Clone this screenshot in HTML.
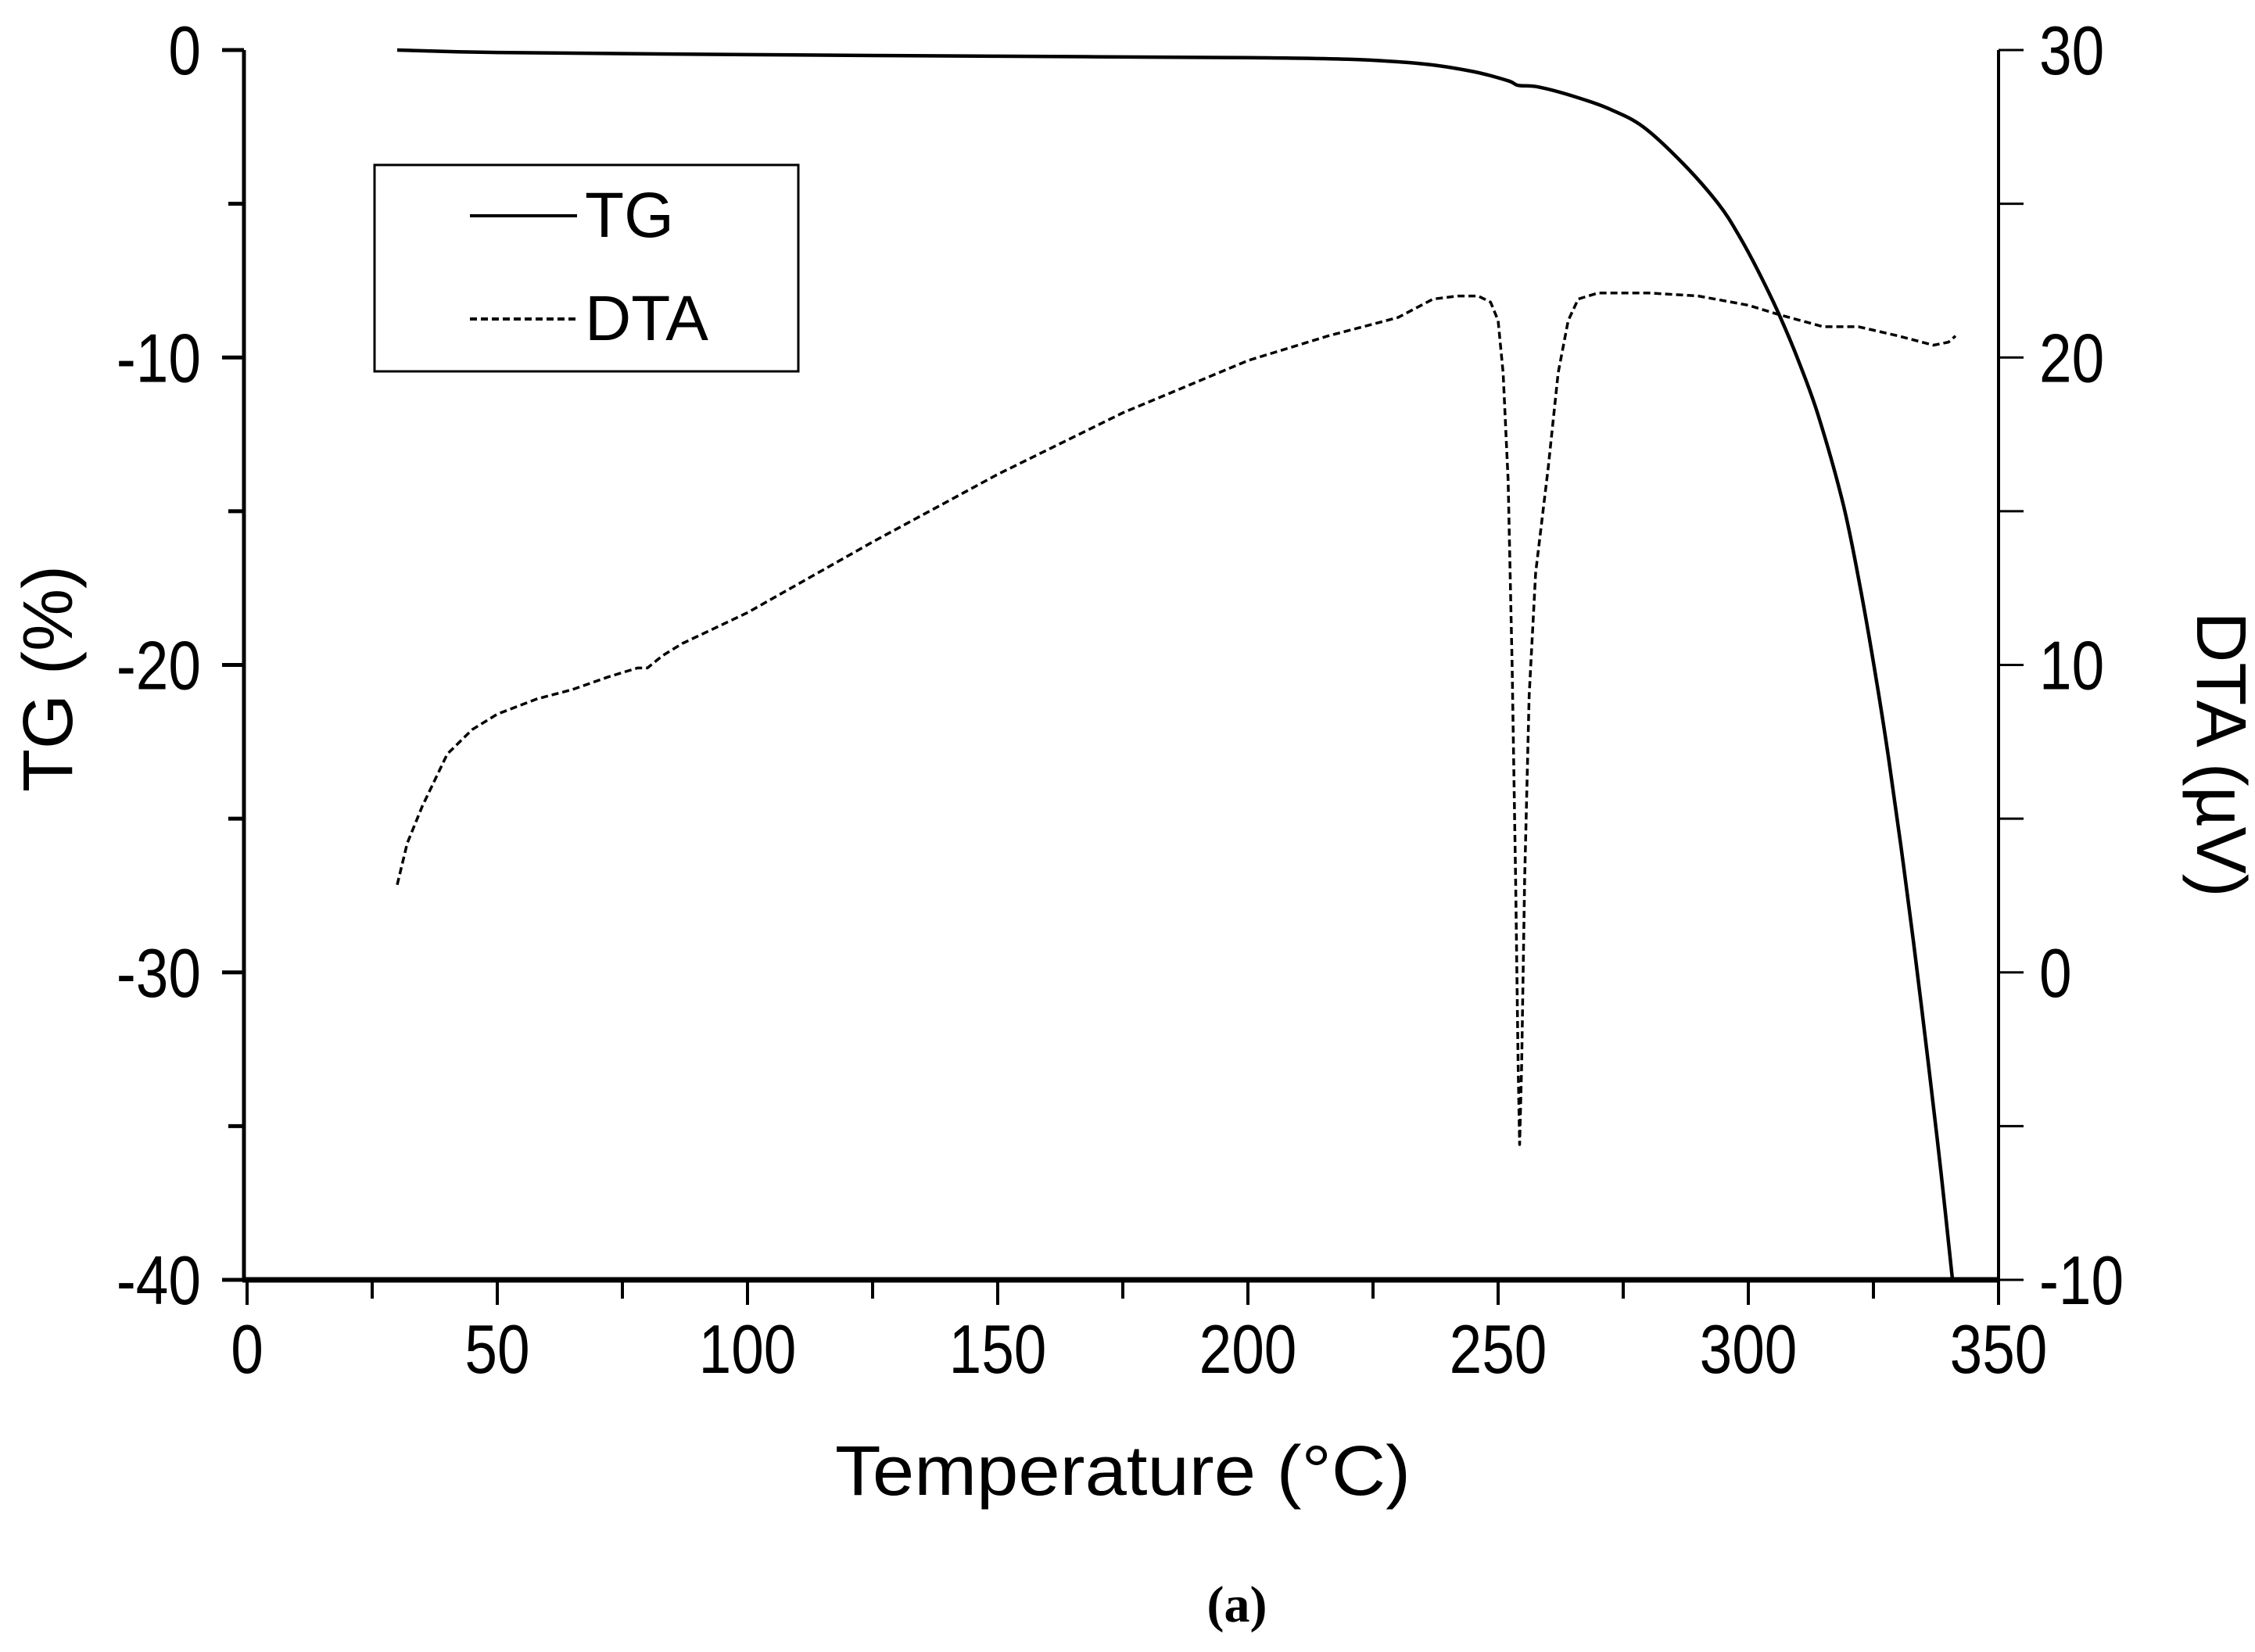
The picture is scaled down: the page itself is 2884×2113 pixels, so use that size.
<!DOCTYPE html>
<html><head><meta charset="utf-8"><style>
html,body{margin:0;padding:0;background:#fff;}
svg{display:block;}
.t{font-family:"Liberation Sans",sans-serif;font-size:88px;fill:#000;}
.ti{font-family:"Liberation Sans",sans-serif;font-size:90px;fill:#000;}
</style></head><body>
<svg id="chart" width="2884" height="2113" viewBox="0 0 2884 2113" xmlns="http://www.w3.org/2000/svg">
<g id="axes"></g>
<g id="series"></g>
<g>
  <rect x="479" y="211" width="542" height="264" fill="none" stroke="#000" stroke-width="3"/>
  <line x1="601" y1="276" x2="738" y2="276" stroke="#000" stroke-width="4"/>
  <text x="748" y="303" class="ti" style="font-size:82px">TG</text>
  <line x1="601" y1="408" x2="738" y2="408" stroke="#000" stroke-width="4" stroke-dasharray="9,5"/>
  <text x="748" y="435" class="ti" style="font-size:82px">DTA</text>
</g>
<text x="1436" y="1912" text-anchor="middle" class="ti" textLength="736" lengthAdjust="spacingAndGlyphs">Temperature (°C)</text>
<text transform="translate(92,868) rotate(-90)" text-anchor="middle" class="ti">TG (%)</text>
<text transform="translate(2810,965) rotate(90)" text-anchor="middle" class="ti">DTA (µV)</text>
<text x="1582" y="2074" text-anchor="middle" style="font-family:'Liberation Serif',serif;font-weight:bold;font-size:66px">(a)</text>
</svg>
<script>
const xTicks=[0,50,100,150,200,250,300,350];
const tgTicks=[0,-10,-20,-30,-40];
const dtaTicks=[30,20,10,0,-10];
const tgTemp=[30,50,100,150,200,220,235,245,252,254,258,265,272,279,287,294,298,302,306,310,314,319,322.5,325.6,328,330.5,333,336,338.5,340.8];
const tgVal=[0,-0.08,-0.15,-0.2,-0.25,-0.3,-0.45,-0.7,-1.0,-1.15,-1.2,-1.5,-1.9,-2.5,-3.7,-5.0,-6.0,-7.2,-8.55,-10.1,-11.9,-14.8,-17.6,-20.5,-23,-25.9,-29,-33,-36.5,-40];
const dtaTemp=[30,32,35,40,45,50,58,65,72,78,80,83,87,100,125,150,175,200,216,230,237,242,246,248.5,250,251,252,252.8,253.5,254,254.3,254.7,255.3,256.2,257.5,260,262,264,266,270,280,290,300,306,315,322,330,337,340,341.4];
const dtaVal=[2.85,4.2,5.4,7.1,7.9,8.4,8.9,9.2,9.6,9.9,9.9,10.3,10.7,11.7,14.0,16.2,18.2,19.9,20.7,21.3,21.9,22.0,22.0,21.8,21.2,19.5,16.0,10,3,-3,-5.6,-3,3,9,13,16.4,19.5,21.2,21.9,22.1,22.1,22.0,21.7,21.4,21.0,21.0,20.7,20.4,20.5,20.7];
const NS="http://www.w3.org/2000/svg";
const X0=316,X1=2556,YT=64,YB=1637;
const xs=v=>X0+(v-0)/(350-0)*(X1-X0);
const yl=v=>YT+(0-v)/40*(YB-YT);
const yr=v=>YT+(30-v)/40*(YB-YT);
function mk(tag,attrs,parent){const e=document.createElementNS(NS,tag);for(const k in attrs)e.setAttribute(k,attrs[k]);parent.appendChild(e);return e;}
const ax=document.getElementById('axes');
let e;
e=mk('line',{x1:312,y1:YT,x2:312,y2:YB+2,stroke:'#000','stroke-width':5},ax);


e=mk('line',{x1:X1,y1:YT,x2:X1,y2:YB+2,stroke:'#000','stroke-width':4},ax);


e=mk('line',{x1:310,y1:YB,x2:X1+2,y2:YB,stroke:'#000','stroke-width':7},ax);


for(let v=0;v<=350;v+=25){const major=v%50===0;
 e=mk('line',{x1:xs(v),y1:YB,x2:xs(v),y2:YB+(major?32:24),stroke:'#000','stroke-width':4},ax);
 
 }
xTicks.forEach(v=>{e=mk('text',{transform:'translate('+xs(v)+',1756) scale(0.85,1)','text-anchor':'middle',class:'t'},ax);e.textContent=v;
 
 });
for(let v=0;v>=-40;v-=5){const major=v%10===0;
 e=mk('line',{x1:312-(major?28:20),y1:yl(v),x2:312,y2:yl(v),stroke:'#000','stroke-width':5},ax);
 
 }
tgTicks.forEach(v=>{e=mk('text',{transform:'translate(257,'+(yl(v)+31)+') scale(0.85,1)','text-anchor':'end',class:'t'},ax);e.textContent=v;
 
 });
for(let v=30;v>=-10;v-=5){
 e=mk('line',{x1:X1,y1:yr(v),x2:X1+32,y2:yr(v),stroke:'#000','stroke-width':3},ax);
 
 }
dtaTicks.forEach(v=>{e=mk('text',{transform:'translate(2608,'+(yr(v)+31)+') scale(0.85,1)','text-anchor':'start',class:'t'},ax);e.textContent=v;
 
 });
const sg=document.getElementById('series');
function pathFrom(xa,ya,yf){return xa.map((t,i)=>(i?'L':'M')+xs(t).toFixed(1)+','+yf(ya[i]).toFixed(1)).join(' ');}
function smoothFrom(xa,ya,yf){
 const p=xa.map((t,i)=>[xs(t),yf(ya[i])]);
 let d='M'+p[0][0].toFixed(1)+','+p[0][1].toFixed(1);
 for(let i=0;i<p.length-1;i++){
  const p0=p[Math.max(0,i-1)],p1=p[i],p2=p[i+1],p3=p[Math.min(p.length-1,i+2)];
  const c1=[p1[0]+(p2[0]-p0[0])/6,p1[1]+(p2[1]-p0[1])/6];
  const c2=[p2[0]-(p3[0]-p1[0])/6,p2[1]-(p3[1]-p1[1])/6];
  d+=' C'+c1.map(n=>n.toFixed(1)).join(',')+' '+c2.map(n=>n.toFixed(1)).join(',')+' '+p2.map(n=>n.toFixed(1)).join(',');
 }
 return d;}
e=mk('path',{d:pathFrom(dtaTemp,dtaVal,yr),fill:'none',stroke:'#000','stroke-width':3.5,'stroke-dasharray':'9,5','stroke-linejoin':'round'},sg);


e=mk('path',{d:smoothFrom(tgTemp,tgVal,yl),fill:'none',stroke:'#000','stroke-width':4.5,'stroke-linejoin':'round'},sg);


</script>
</body></html>
